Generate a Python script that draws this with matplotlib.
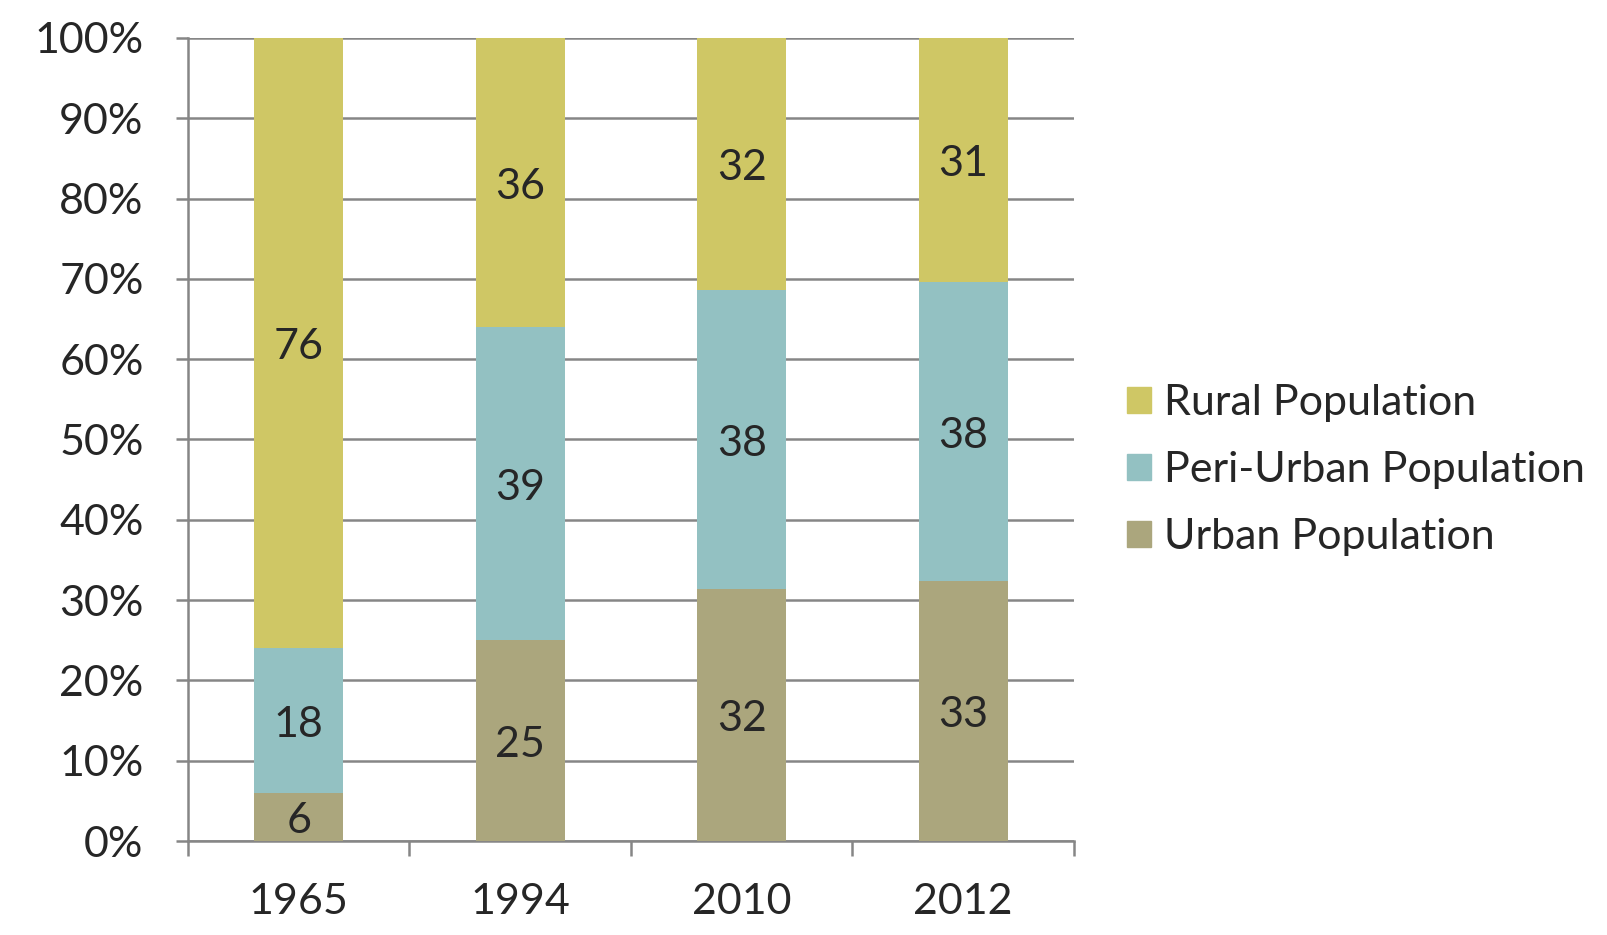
import numpy as np
import matplotlib.pyplot as plt
from matplotlib.patches import Patch
from matplotlib.ticker import FixedLocator, PercentFormatter

plt.rcParams['font.family'] = ['Lato', 'DejaVu Sans']

# Данные с картинки
years = ['1965', '1994', '2010', '2012']
urban = [6, 25, 32, 33]
peri_urban = [18, 39, 38, 38]
rural = [76, 36, 32, 31]

c_urban = '#aba67d'
c_peri = '#93c1c2'
c_rural = '#cfc765'
c_grid = '#868686'
c_text = '#262626'

urban_a = np.array(urban, dtype=float)
peri_a = np.array(peri_urban, dtype=float)
rural_a = np.array(rural, dtype=float)
total = urban_a + peri_a + rural_a
u_pct = urban_a / total * 100
p_pct = peri_a / total * 100
r_pct = rural_a / total * 100

fig = plt.figure(figsize=(16.08, 9.35), dpi=100)
ax = fig.add_axes([0.1169, 0.1005, 0.5510, 0.8589])

x = np.arange(len(years))
w = 0.40
ax.bar(x, u_pct, w, color=c_urban, zorder=3)
ax.bar(x, p_pct, w, bottom=u_pct, color=c_peri, zorder=3)
ax.bar(x, r_pct, w, bottom=u_pct + p_pct, color=c_rural, zorder=3)

# подписи значений в центре сегментов
fs = 31
for i in range(len(years)):
    centers = [u_pct[i] / 2, u_pct[i] + p_pct[i] / 2,
               u_pct[i] + p_pct[i] + r_pct[i] / 2]
    vals = [urban[i], peri_urban[i], rural[i]]
    for yc, v in zip(centers, vals):
        ax.annotate(str(v), (x[i], yc), xytext=(0, -3),
                    textcoords='offset points', ha='center', va='center',
                    fontsize=fs, color=c_text, zorder=4)

ax.set_xlim(-0.5, len(years) - 0.5)
ax.set_ylim(0, 100)
ax.set_yticks(np.arange(0, 101, 10))
ax.yaxis.set_major_formatter(PercentFormatter(decimals=0))
ax.grid(axis='y', color=c_grid, linewidth=1.8, zorder=1)

ax.set_xticks(x)
ax.set_xticklabels(years)
ax.xaxis.set_minor_locator(FixedLocator(np.arange(-0.5, len(years), 1)))
ax.tick_params(axis='x', which='major', length=0, pad=30, labelsize=fs,
               labelcolor=c_text)
ax.tick_params(axis='x', which='minor', length=11, width=1.8, color=c_grid,
               direction='out')
ax.tick_params(axis='y', length=9, width=1.8, color=c_grid, pad=23,
               labelsize=fs, labelcolor=c_text)

for s in ['top', 'right']:
    ax.spines[s].set_visible(False)
for s in ['left', 'bottom']:
    ax.spines[s].set_color(c_grid)
    ax.spines[s].set_linewidth(1.8)

handles = [Patch(color=c_rural), Patch(color=c_peri), Patch(color=c_urban)]
labels = ['Rural Population', 'Peri-Urban Population', 'Urban Population']
fig.legend(handles, labels, loc='center left', bbox_to_anchor=(0.677, 0.497),
           frameon=False, fontsize=fs, handlelength=0.55, handleheight=0.55,
           handletextpad=0.3, labelspacing=0.67, labelcolor=c_text)

fig.savefig('out.png', dpi=100)
